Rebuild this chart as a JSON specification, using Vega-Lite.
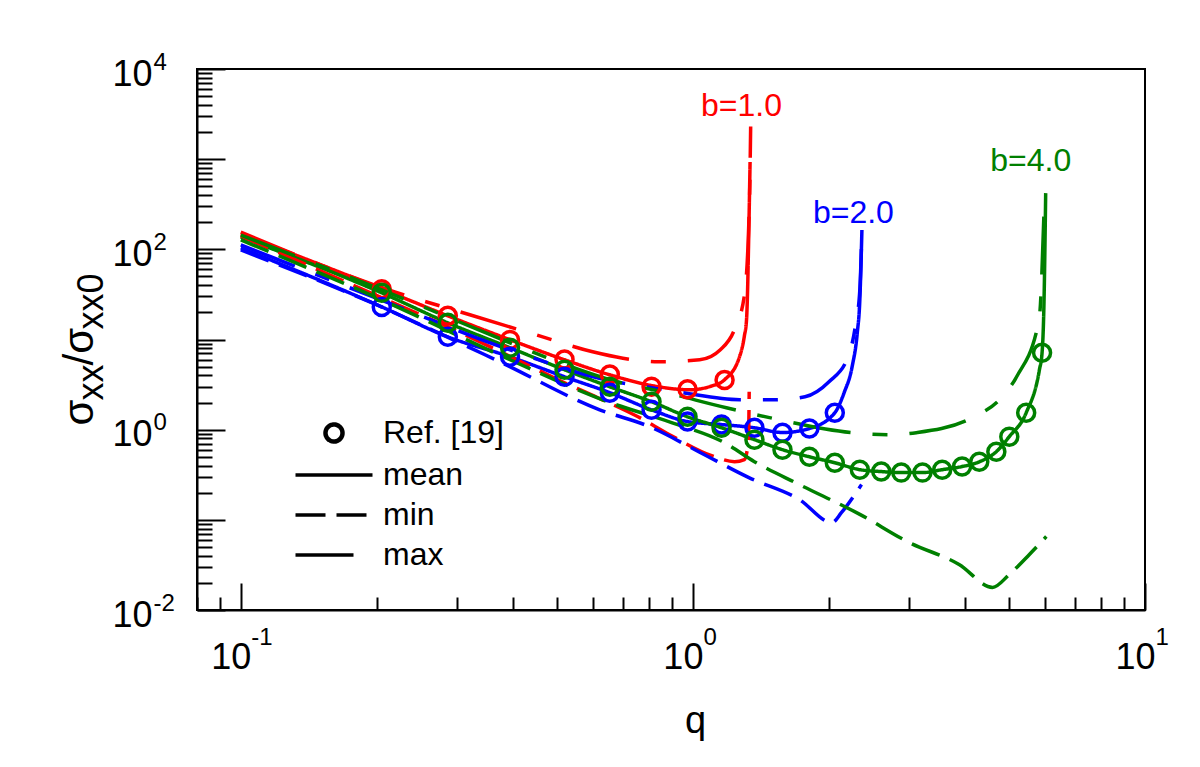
{
  "$schema": "https://vega.github.io/schema/vega-lite/v6.json",
  "width": 948,
  "height": 541,
  "autosize": {"type": "none"},
  "padding": {"left": 197, "top": 69, "right": 55, "bottom": 157},
  "background": "white",
  "config": {"view": {"stroke": "black", "strokeWidth": 2}, "font": "Liberation Sans"},
  "datasets": {
    "curves": [
      {"b":"b=1.0","kind":"mean","q":0.1,"s":148},{"b":"b=1.0","kind":"mean","q":0.205,"s":36.4},{"b":"b=1.0","kind":"mean","q":0.287,"s":18.3},{"b":"b=1.0","kind":"mean","q":0.394,"s":9.93},{"b":"b=1.0","kind":"mean","q":0.52,"s":5.96},{"b":"b=1.0","kind":"mean","q":0.655,"s":4.06},{"b":"b=1.0","kind":"mean","q":0.815,"s":3.07},{"b":"b=1.0","kind":"mean","q":0.983,"s":2.77},{"b":"b=1.0","kind":"mean","q":1.1,"s":3.05},{"b":"b=1.0","kind":"mean","q":1.175,"s":3.58},{"b":"b=1.0","kind":"mean","q":1.268,"s":6.43},{"b":"b=1.0","kind":"mean","q":1.3,"s":11},{"b":"b=1.0","kind":"mean","q":1.314,"s":16.5},{"b":"b=1.0","kind":"mean","q":1.322,"s":40},{"b":"b=1.0","kind":"mean","q":1.327,"s":98.5},{"b":"b=1.0","kind":"mean","q":1.338,"s":929},
      {"b":"b=1.0","kind":"min","q":0.1,"s":141},{"b":"b=1.0","kind":"min","q":0.205,"s":29},{"b":"b=1.0","kind":"min","q":0.287,"s":13.8},{"b":"b=1.0","kind":"min","q":0.43,"s":5.25},{"b":"b=1.0","kind":"min","q":0.503,"s":3.58},{"b":"b=1.0","kind":"min","q":0.616,"s":2.26},{"b":"b=1.0","kind":"min","q":0.756,"s":1.39},{"b":"b=1.0","kind":"min","q":0.888,"s":0.88},{"b":"b=1.0","kind":"min","q":1.1,"s":0.515},{"b":"b=1.0","kind":"min","q":1.236,"s":0.442},{"b":"b=1.0","kind":"min","q":1.3,"s":0.466},{"b":"b=1.0","kind":"min","q":1.327,"s":0.775},{"b":"b=1.0","kind":"min","q":1.332,"s":2.64},
      {"b":"b=1.0","kind":"max","q":0.1,"s":155},{"b":"b=1.0","kind":"max","q":0.219,"s":33.7},{"b":"b=1.0","kind":"max","q":0.321,"s":18.8},{"b":"b=1.0","kind":"max","q":0.449,"s":11.3},{"b":"b=1.0","kind":"max","q":0.6,"s":7.3},{"b":"b=1.0","kind":"max","q":0.7,"s":6.2},{"b":"b=1.0","kind":"max","q":0.839,"s":5.66},{"b":"b=1.0","kind":"max","q":1.035,"s":5.95},{"b":"b=1.0","kind":"max","q":1.15,"s":7.7},{"b":"b=1.0","kind":"max","q":1.235,"s":12.8},{"b":"b=1.0","kind":"max","q":1.3,"s":31},{"b":"b=1.0","kind":"max","q":1.334,"s":354},{"b":"b=1.0","kind":"max","q":1.342,"s":2300},
      {"b":"b=2.0","kind":"mean","q":0.1,"s":104},{"b":"b=2.0","kind":"mean","q":0.205,"s":23},{"b":"b=2.0","kind":"mean","q":0.287,"s":10.7},{"b":"b=2.0","kind":"mean","q":0.394,"s":6.43},{"b":"b=2.0","kind":"mean","q":0.52,"s":3.86},{"b":"b=2.0","kind":"mean","q":0.655,"s":2.57},{"b":"b=2.0","kind":"mean","q":0.81,"s":1.66},{"b":"b=2.0","kind":"mean","q":0.973,"s":1.23},{"b":"b=2.0","kind":"mean","q":1.157,"s":1.14},{"b":"b=2.0","kind":"mean","q":1.368,"s":1.05},{"b":"b=2.0","kind":"mean","q":1.578,"s":0.93},{"b":"b=2.0","kind":"mean","q":1.81,"s":1.03},{"b":"b=2.0","kind":"mean","q":2.06,"s":1.54},{"b":"b=2.0","kind":"mean","q":2.16,"s":2.57},{"b":"b=2.0","kind":"mean","q":2.25,"s":5.0},{"b":"b=2.0","kind":"mean","q":2.31,"s":11.9},{"b":"b=2.0","kind":"mean","q":2.34,"s":27.5},{"b":"b=2.0","kind":"mean","q":2.365,"s":164},
      {"b":"b=2.0","kind":"min","q":0.1,"s":98.5},{"b":"b=2.0","kind":"min","q":0.193,"s":26.1},{"b":"b=2.0","kind":"min","q":0.374,"s":5.66},{"b":"b=2.0","kind":"min","q":0.622,"s":1.66},{"b":"b=2.0","kind":"min","q":0.802,"s":1.08},{"b":"b=2.0","kind":"min","q":1.03,"s":0.57},{"b":"b=2.0","kind":"min","q":1.33,"s":0.294},{"b":"b=2.0","kind":"min","q":1.72,"s":0.168},{"b":"b=2.0","kind":"min","q":2.03,"s":0.093},{"b":"b=2.0","kind":"min","q":2.13,"s":0.12},{"b":"b=2.0","kind":"min","q":2.36,"s":0.246},
      {"b":"b=2.0","kind":"max","q":0.1,"s":112},{"b":"b=2.0","kind":"max","q":0.204,"s":27.5},{"b":"b=2.0","kind":"max","q":0.394,"s":7.68},{"b":"b=2.0","kind":"max","q":0.655,"s":3.5},{"b":"b=2.0","kind":"max","q":0.8,"s":2.95},{"b":"b=2.0","kind":"max","q":0.95,"s":2.57},{"b":"b=2.0","kind":"max","q":1.268,"s":2.15},{"b":"b=2.0","kind":"max","q":1.515,"s":2.15},{"b":"b=2.0","kind":"max","q":1.77,"s":2.32},{"b":"b=2.0","kind":"max","q":2.0,"s":3.4},{"b":"b=2.0","kind":"max","q":2.2,"s":6.27},{"b":"b=2.0","kind":"max","q":2.29,"s":14.6},{"b":"b=2.0","kind":"max","q":2.34,"s":35.6},{"b":"b=2.0","kind":"max","q":2.365,"s":164},
      {"b":"b=4.0","kind":"mean","q":0.1,"s":137},{"b":"b=4.0","kind":"mean","q":0.205,"s":32.9},{"b":"b=4.0","kind":"mean","q":0.287,"s":15.3},{"b":"b=4.0","kind":"mean","q":0.394,"s":8.09},{"b":"b=4.0","kind":"mean","q":0.52,"s":4.62},{"b":"b=4.0","kind":"mean","q":0.655,"s":2.99},{"b":"b=4.0","kind":"mean","q":0.81,"s":2.04},{"b":"b=4.0","kind":"mean","q":0.973,"s":1.39},{"b":"b=4.0","kind":"mean","q":1.157,"s":1.05},{"b":"b=4.0","kind":"mean","q":1.368,"s":0.775},{"b":"b=4.0","kind":"mean","q":1.578,"s":0.6},{"b":"b=4.0","kind":"mean","q":1.81,"s":0.5},{"b":"b=4.0","kind":"mean","q":2.06,"s":0.43},{"b":"b=4.0","kind":"mean","q":2.34,"s":0.36},{"b":"b=4.0","kind":"mean","q":2.61,"s":0.343},{"b":"b=4.0","kind":"mean","q":2.89,"s":0.334},{"b":"b=4.0","kind":"mean","q":3.22,"s":0.334},{"b":"b=4.0","kind":"mean","q":3.56,"s":0.36},{"b":"b=4.0","kind":"mean","q":3.94,"s":0.39},{"b":"b=4.0","kind":"mean","q":4.3,"s":0.44},{"b":"b=4.0","kind":"mean","q":4.69,"s":0.57},{"b":"b=4.0","kind":"mean","q":5.01,"s":0.837},{"b":"b=4.0","kind":"mean","q":5.46,"s":1.54},{"b":"b=4.0","kind":"mean","q":5.84,"s":4.6},{"b":"b=4.0","kind":"mean","q":5.92,"s":7.13},{"b":"b=4.0","kind":"mean","q":5.98,"s":27.5},{"b":"b=4.0","kind":"mean","q":6.03,"s":420},
      {"b":"b=4.0","kind":"min","q":0.1,"s":127},{"b":"b=4.0","kind":"min","q":0.205,"s":27.5},{"b":"b=4.0","kind":"min","q":0.394,"s":5.96},{"b":"b=4.0","kind":"min","q":0.655,"s":2.0},{"b":"b=4.0","kind":"min","q":0.897,"s":1.2},{"b":"b=4.0","kind":"min","q":1.174,"s":0.718},{"b":"b=4.0","kind":"min","q":1.368,"s":0.442},{"b":"b=4.0","kind":"min","q":1.72,"s":0.246},{"b":"b=4.0","kind":"min","q":2.34,"s":0.115},{"b":"b=4.0","kind":"min","q":3.01,"s":0.056},{"b":"b=4.0","kind":"min","q":3.88,"s":0.032},{"b":"b=4.0","kind":"min","q":4.6,"s":0.0178},{"b":"b=4.0","kind":"min","q":5.01,"s":0.0248},{"b":"b=4.0","kind":"min","q":5.55,"s":0.0413},{"b":"b=4.0","kind":"min","q":6.05,"s":0.0653},
      {"b":"b=4.0","kind":"max","q":0.1,"s":144},{"b":"b=4.0","kind":"max","q":0.205,"s":35.5},{"b":"b=4.0","kind":"max","q":0.394,"s":9.2},{"b":"b=4.0","kind":"max","q":0.52,"s":5.3},{"b":"b=4.0","kind":"max","q":0.655,"s":3.58},{"b":"b=4.0","kind":"max","q":0.874,"s":2.57},{"b":"b=4.0","kind":"max","q":1.186,"s":1.75},{"b":"b=4.0","kind":"max","q":1.477,"s":1.36},{"b":"b=4.0","kind":"max","q":2.25,"s":0.926},{"b":"b=4.0","kind":"max","q":2.76,"s":0.88},{"b":"b=4.0","kind":"max","q":3.12,"s":0.926},{"b":"b=4.0","kind":"max","q":4.15,"s":1.36},{"b":"b=4.0","kind":"max","q":4.81,"s":2.26},{"b":"b=4.0","kind":"max","q":5.2,"s":3.86},{"b":"b=4.0","kind":"max","q":5.83,"s":16.5},{"b":"b=4.0","kind":"max","q":5.99,"s":352}
    ],
    "ref": [
      {"b":"b=1.0","q":0.205,"s":36},{"b":"b=1.0","q":0.287,"s":18.3},{"b":"b=1.0","q":0.394,"s":9.9},{"b":"b=1.0","q":0.52,"s":6.0},{"b":"b=1.0","q":0.655,"s":4.1},{"b":"b=1.0","q":0.81,"s":3.0},{"b":"b=1.0","q":0.973,"s":2.8},{"b":"b=1.0","q":1.175,"s":3.55},
      {"b":"b=2.0","q":0.205,"s":23},{"b":"b=2.0","q":0.287,"s":10.7},{"b":"b=2.0","q":0.394,"s":6.43},{"b":"b=2.0","q":0.52,"s":3.86},{"b":"b=2.0","q":0.655,"s":2.57},{"b":"b=2.0","q":0.81,"s":1.66},{"b":"b=2.0","q":0.973,"s":1.23},{"b":"b=2.0","q":1.157,"s":1.14},{"b":"b=2.0","q":1.368,"s":1.05},{"b":"b=2.0","q":1.578,"s":0.926},{"b":"b=2.0","q":1.81,"s":1.03},{"b":"b=2.0","q":2.06,"s":1.54},
      {"b":"b=4.0","q":0.205,"s":32.9},{"b":"b=4.0","q":0.287,"s":15.3},{"b":"b=4.0","q":0.394,"s":8.09},{"b":"b=4.0","q":0.52,"s":4.62},{"b":"b=4.0","q":0.655,"s":2.99},{"b":"b=4.0","q":0.81,"s":2.04},{"b":"b=4.0","q":0.973,"s":1.39},{"b":"b=4.0","q":1.157,"s":1.05},{"b":"b=4.0","q":1.368,"s":0.775},{"b":"b=4.0","q":1.578,"s":0.6},{"b":"b=4.0","q":1.81,"s":0.5},{"b":"b=4.0","q":2.06,"s":0.43},{"b":"b=4.0","q":2.34,"s":0.36},{"b":"b=4.0","q":2.61,"s":0.343},{"b":"b=4.0","q":2.89,"s":0.334},{"b":"b=4.0","q":3.22,"s":0.334},{"b":"b=4.0","q":3.56,"s":0.36},{"b":"b=4.0","q":3.94,"s":0.39},{"b":"b=4.0","q":4.3,"s":0.44},{"b":"b=4.0","q":4.69,"s":0.57},{"b":"b=4.0","q":5.01,"s":0.837},{"b":"b=4.0","q":5.46,"s":1.54},{"b":"b=4.0","q":5.92,"s":7.13}
    ],
    "labels": [
      {"b":"b=1.0","q":1.281,"s":3873},
      {"b":"b=2.0","q":2.265,"s":253},
      {"b":"b=4.0","q":5.59,"s":953}
    ]
  },
  "layer": [
    {
      "data": {"name": "curves"},
      "transform": [{"filter": "datum.kind === 'mean'"}],
      "mark": {"type": "line", "strokeWidth": 3.5, "interpolate": "monotone"},
      "encoding": {
        "x": {"field": "q", "type": "quantitative",
          "scale": {"type": "log", "domain": [0.08, 10], "nice": false},
          "axis": {"orient": "bottom", "grid": false,
            "values": [0.08,0.09,0.1,0.2,0.3,0.4,0.5,0.6,0.7,0.8,0.9,1,2,3,4,5,6,7,8,9,10],
            "labelExpr": "abs(log(datum.value)/LN10 - round(log(datum.value)/LN10)) < 0.001 ? '10' : ''",
            "labelFontSize": 36, "labelColor": "black", "labelAlign": "right", "labelBaseline": "top",
            "labelOffset": 10, "labelPadding": 57, "labelFlush": false, "labelOverlap": false, "labelBound": false,
            "tickSize": {"condition": {"test": "abs(log(datum.value)/LN10 - round(log(datum.value)/LN10)) < 0.001", "value": -27}, "value": -13},
            "tickWidth": 2, "tickColor": "black", "domainColor": "black", "domainWidth": 2,
            "title": "q", "titleFontSize": 38, "titleFontWeight": "normal", "titleColor": "black",
            "titleX": 498, "titleY": 122, "titleAlign": "center", "titleBaseline": "alphabetic", "titleAngle": 0}},
        "y": {"field": "s", "type": "quantitative",
          "scale": {"type": "log", "domain": [0.01, 10000], "nice": false},
          "axis": {"orient": "left", "grid": false,
            "values": [0.01,0.02,0.03,0.04,0.05,0.06,0.07,0.08,0.09,0.1,0.2,0.3,0.4,0.5,0.6,0.7,0.8,0.9,1,2,3,4,5,6,7,8,9,10,20,30,40,50,60,70,80,90,100,200,300,400,500,600,700,800,900,1000,2000,3000,4000,5000,6000,7000,8000,9000,10000],
            "labelExpr": "(abs(log(datum.value)/LN10 - round(log(datum.value)/LN10)) < 0.001 && round(log(datum.value)/LN10) % 2 == 0) ? '10' : ''",
            "labelFontSize": 36, "labelColor": "black", "labelAlign": "right", "labelBaseline": "middle",
            "labelOffset": 5, "labelPadding": 73, "labelFlush": false, "labelOverlap": false, "labelBound": false,
            "tickSize": {"condition": {"test": "abs(log(datum.value)/LN10 - round(log(datum.value)/LN10)) < 0.001", "value": -28}, "value": -15},
            "tickWidth": 2, "tickColor": "black", "domainColor": "black", "domainWidth": 2,
            "title": "σ", "titleFontSize": 42, "titleFontWeight": "normal", "titleColor": "black",
            "titleX": -105, "titleY": 356, "titleAlign": "left", "titleBaseline": "alphabetic", "titleAngle": -90}},
        "color": {"field": "b", "type": "nominal", "legend": null,
          "scale": {"domain": ["b=1.0","b=2.0","b=4.0"], "range": ["#ff0000","#0000ff","#008000"]}},
        "strokeDash": {"field": "kind", "type": "nominal",
          "scale": {"domain": ["Ref. [19]","mean","min","max"], "range": [[1,0],[1,0],[30,11],[58,22,15,22]]},
          "legend": {"orient": "none", "legendX": 121, "legendY": 348, "title": null,
            "labelFontSize": 32, "labelColor": "black", "labelOffset": 33, "rowPadding": 8,
            "symbolType": "stroke", "symbolSize": 5929, "symbolStrokeWidth": 3.5, "symbolStrokeColor": "black", "symbolFillColor": "transparent",
            "encode": {"symbols": {"update": {
              "shape": {"signal": "datum.value === 'Ref. [19]' ? 'circle' : 'stroke'"},
              "size": {"signal": "datum.value === 'Ref. [19]' ? 289 : 5929"},
              "strokeDash": {"signal": "datum.value === 'max' ? [30,27,17,27] : (datum.value === 'min' ? [30,12] : [1,0])"},
              "strokeWidth": {"signal": "datum.value === 'Ref. [19]' ? 4.5 : 3.5"},
              "stroke": {"value": "black"},
              "fill": {"value": "transparent"}
            }}}}}
      }
    },
    {
      "data": {"name": "curves"},
      "transform": [{"filter": "datum.kind !== 'mean'"}],
      "mark": {"type": "line", "strokeWidth": 3.5, "interpolate": "monotone"},
      "encoding": {
        "x": {"field": "q", "type": "quantitative", "scale": {"type": "log", "domain": [0.08, 10], "nice": false}, "axis": null},
        "y": {"field": "s", "type": "quantitative", "scale": {"type": "log", "domain": [0.01, 10000], "nice": false},
          "axis": {"orient": "left", "grid": false, "domain": false, "ticks": false, "labels": false,
            "title": "xx", "titleFontSize": 36, "titleFontWeight": "normal", "titleColor": "black",
            "titleX": -95, "titleY": 331, "titleAlign": "left", "titleBaseline": "alphabetic", "titleAngle": -90}},
        "color": {"field": "b", "type": "nominal", "legend": null,
          "scale": {"domain": ["b=1.0","b=2.0","b=4.0"], "range": ["#ff0000","#0000ff","#008000"]}},
        "strokeDash": {"field": "kind", "type": "nominal",
          "scale": {"domain": ["Ref. [19]","mean","min","max"], "range": [[1,0],[1,0],[30,11],[58,22,15,22]]},
          "legend": {"orient": "none", "legendX": 121, "legendY": 348, "title": null,
            "labelFontSize": 32, "labelColor": "black", "labelOffset": 33, "rowPadding": 8,
            "symbolType": "stroke", "symbolSize": 5929, "symbolStrokeWidth": 3.5, "symbolStrokeColor": "black", "symbolFillColor": "transparent",
            "encode": {"symbols": {"update": {
              "shape": {"signal": "datum.value === 'Ref. [19]' ? 'circle' : 'stroke'"},
              "size": {"signal": "datum.value === 'Ref. [19]' ? 289 : 5929"},
              "strokeDash": {"signal": "datum.value === 'max' ? [30,27,17,27] : (datum.value === 'min' ? [30,12] : [1,0])"},
              "strokeWidth": {"signal": "datum.value === 'Ref. [19]' ? 4.5 : 3.5"},
              "stroke": {"value": "black"},
              "fill": {"value": "transparent"}
            }}}}}
      }
    },
    {
      "data": {"name": "ref"},
      "mark": {"type": "point", "shape": "circle", "filled": false, "size": 289, "strokeWidth": 3.5, "opacity": 1},
      "encoding": {
        "x": {"field": "q", "type": "quantitative", "scale": {"type": "log", "domain": [0.08, 10], "nice": false},
          "axis": {"orient": "bottom", "grid": false, "domain": false, "ticks": false,
            "values": [0.1, 1, 10],
            "labelExpr": "'' + round(log(datum.value)/LN10)",
            "labelFontSize": 24, "labelColor": "black", "labelAlign": "left", "labelBaseline": "top",
            "labelOffset": 10, "labelPadding": 15, "labelFlush": false, "labelOverlap": false, "labelBound": false,
            "title": null}},
        "y": {"field": "s", "type": "quantitative", "scale": {"type": "log", "domain": [0.01, 10000], "nice": false},
          "axis": {"orient": "left", "grid": false, "domain": false, "ticks": false,
            "values": [0.01, 1, 100, 10000],
            "labelExpr": "'' + round(log(datum.value)/LN10)",
            "labelFontSize": 24, "labelColor": "black", "labelAlign": "left", "labelBaseline": "alphabetic",
            "labelOffset": 0, "labelPadding": 44, "labelFlush": false, "labelOverlap": false, "labelBound": false,
            "title": "xx0", "titleFontSize": 36, "titleFontWeight": "normal", "titleColor": "black",
            "titleX": -95, "titleY": 260, "titleAlign": "left", "titleBaseline": "alphabetic", "titleAngle": -90}},
        "color": {"field": "b", "type": "nominal", "legend": null,
          "scale": {"domain": ["b=1.0","b=2.0","b=4.0"], "range": ["#ff0000","#0000ff","#008000"]}}
      }
    },
    {
      "data": {"name": "labels"},
      "mark": {"type": "text", "fontSize": 32, "align": "center", "baseline": "middle"},
      "encoding": {
        "x": {"field": "q", "type": "quantitative", "scale": {"type": "log", "domain": [0.08, 10], "nice": false}, "axis": null},
        "y": {"field": "s", "type": "quantitative", "scale": {"type": "log", "domain": [0.01, 10000], "nice": false},
          "axis": {"orient": "left", "grid": false, "domain": false, "ticks": false, "labels": false,
            "title": "/σ", "titleFontSize": 42, "titleFontWeight": "normal", "titleColor": "black",
            "titleX": -105, "titleY": 296, "titleAlign": "left", "titleBaseline": "alphabetic", "titleAngle": -90}},
        "text": {"field": "b", "type": "nominal"},
        "color": {"field": "b", "type": "nominal", "legend": null,
          "scale": {"domain": ["b=1.0","b=2.0","b=4.0"], "range": ["#ff0000","#0000ff","#008000"]}}
      }
    }
  ],
  "resolve": {"axis": {"x": "independent", "y": "independent"}}
}
